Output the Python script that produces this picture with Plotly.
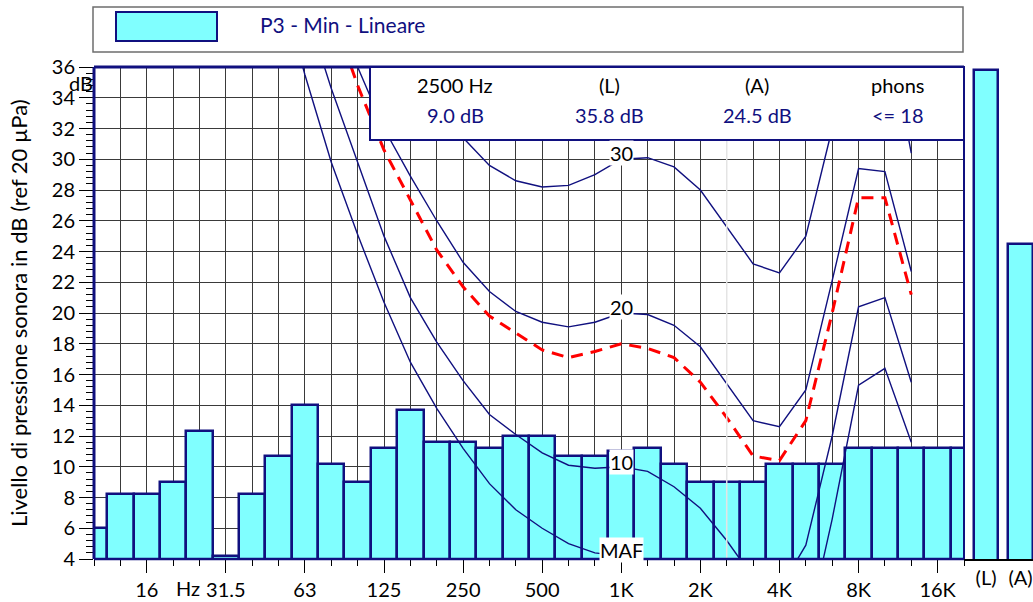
import plotly.graph_objects as go

# ---------------- data ----------------
band_labels = ["10", "12.5", "16", "20", "25", "31.5", "40", "50", "63", "80", "100",
               "125", "160", "200", "250", "315", "400", "500", "630", "800", "1K",
               "1.25K", "1.6K", "2K", "2.5K", "3.15K", "4K", "5K", "6.3K", "8K",
               "10K", "12.5K", "16K", "20K"]
levels = [6.0, 8.2, 8.2, 9.0, 12.3, 4.2, 8.2, 10.7, 14.0, 10.2, 9.0,
          11.2, 13.7, 11.6, 11.6, 11.2, 12.0, 12.0, 10.7, 10.7, 11.0,
          11.2, 10.2, 9.0, 9.0, 9.0, 10.2, 10.2, 10.2, 11.2,
          11.2, 11.2, 11.2, 11.2]
total_labels = ["(L)", "(A)"]
total_levels = [35.8, 24.5]

tick_labels = ["16", "31.5", "63", "125", "250", "500", "1K", "2K", "4K", "8K", "16K"]

N = None
maf = [N, N, N, N, N, N, N, 41.7, 35.5, 29.8, 25.1,
       20.7, 16.8, 13.8, 11.2, 8.9, 7.2, 6.0, 5.0, 4.4, 4.2,
       3.7, 2.6, 1.0, -1.2, -3.6, -3.9, -1.1, 6.6, 15.3,
       16.4, 11.6, N, N]
phon10 = [N, N, N, N, N, N, N, N, 40.0, 34.6, 29.8,
          25.0, 21.0, 18.1, 15.6, 13.4, 12.1, 10.9, 10.1, 9.9, 10.0,
          9.7, 8.7, 7.3, 5.2, 2.8, 2.0, 4.9, 12.0, 20.4,
          21.0, 15.5, N, N]
phon18 = [N, N, N, N, N, N, N, N, N, 39.7, 34.8,
          30.6, 27.3, 24.1, 21.7, 19.8, 18.7, 17.6, 17.1, 17.5, 18.0,
          17.7, 17.1, 15.5, 13.2, 10.7, 10.4, 13.0, 20.0, 27.5,
          27.5, 21.2, N, N]
phon20 = [N, N, N, N, N, N, N, N, N, 41.0, 36.0,
          32.0, 28.9, 26.0, 23.3, 21.4, 20.1, 19.4, 19.1, 19.4, 20.0,
          19.9, 19.2, 17.8, 15.4, 13.0, 12.6, 15.0, 22.1, 29.4,
          29.2, 22.7, N, N]
phon30 = [N, N, N, N, N, N, N, N, N, N, N,
          39.0, 36.0, 33.6, 31.4, 29.6, 28.6, 28.2, 28.3, 29.0, 30.0,
          30.1, 29.5, 28.0, 25.6, 23.2, 22.6, 25.0, 32.0, 39.5,
          39.5, 30.4, N, N]
curve_labels = [("MAF", 4.6), ("10", 10.3), ("20", 20.4), ("30", 30.4)]

series_name = "P3 - Min - Lineare"
cursor_band = "2.5K"
info_head = ["2500 Hz", "(L)", "(A)", "phons"]
info_vals = ["9.0 dB", "35.8 dB", "24.5 dB", "<= 18"]

# ---------------- style ----------------
NAVY = "#10107f"
CYAN = "#80ffff"
GRID = "#3a3a3a"
FONT = "Lato"

xi = list(range(len(band_labels)))
tick_idx = [band_labels.index(t) for t in tick_labels]

fig = go.Figure()

fig.add_trace(go.Bar(x=xi, y=levels, width=1.0, name=series_name,
                     marker=dict(color=CYAN, line=dict(color=NAVY, width=2.5)),
                     xaxis="x", yaxis="y", showlegend=False))

for c in [maf, phon10, phon20, phon30]:
    fig.add_trace(go.Scatter(x=xi, y=c, mode="lines", line=dict(color=NAVY, width=1.4),
                             connectgaps=False, showlegend=False, xaxis="x", yaxis="y"))
fig.add_trace(go.Scatter(x=xi, y=phon18, mode="lines",
                         line=dict(color="#ff0000", width=3, dash="12px,8px"),
                         connectgaps=False, showlegend=False, xaxis="x", yaxis="y"))

fig.add_trace(go.Bar(x=[0, 1], y=total_levels, width=0.7,
                     marker=dict(color=CYAN, line=dict(color=NAVY, width=2.5)),
                     xaxis="x2", yaxis="y2", showlegend=False))

x_split = (964 - 94) / 939

fig.update_layout(
    width=1033, height=602,
    margin=dict(l=94, r=0, t=67, b=43, pad=0),
    paper_bgcolor="white", plot_bgcolor="white",
    font=dict(family=FONT, size=20, color="black"),
    bargap=0,
    xaxis=dict(domain=[0, x_split], range=[0, 33], showgrid=True, gridcolor=GRID, gridwidth=1,
               tickmode="array", tickvals=tick_idx, ticktext=tick_labels,
               ticks="outside", ticklen=13, tickcolor="black", tickwidth=1,
               minor=dict(dtick=1, tick0=0, ticklen=6, ticks="outside", showgrid=True,
                          gridcolor=GRID, gridwidth=1, tickcolor="black"),
               showline=False, zeroline=False, tickfont=dict(size=20)),
    yaxis=dict(range=[4, 36], dtick=2, tick0=4, showgrid=True, gridcolor=GRID, gridwidth=1,
               ticks="outside", ticklen=14, tickcolor="black",
               minor=dict(dtick=0.4, tick0=4, ticklen=7, ticks="outside", tickcolor="black"),
               showline=False, zeroline=False, tickfont=dict(size=20)),
    xaxis2=dict(domain=[x_split, 1], range=[-0.638, 1.362], anchor="y2", showgrid=False,
                tickmode="array", tickvals=[0, 1], ticktext=total_labels, ticks="",
                showline=True, linecolor="black", linewidth=2, zeroline=False,
                tickfont=dict(size=20)),
    yaxis2=dict(range=[4, 36], anchor="x2", showgrid=False, showticklabels=False,
                ticks="", showline=False, zeroline=False),
)

shapes = []
# cursor line at selected frequency
ci = band_labels.index(cursor_band)
shapes.append(dict(type="line", xref="x", yref="y domain", x0=ci, x1=ci, y0=0, y1=1,
                   line=dict(color="#e4e4e4", width=1.5), layer="above"))
# plot frame
shapes.append(dict(type="line", xref="x domain", yref="y domain", x0=0, x1=0, y0=0, y1=1,
                   line=dict(color=NAVY, width=3), layer="above"))
shapes.append(dict(type="line", xref="x domain", yref="y domain", x0=0, x1=1, y0=1, y1=1,
                   line=dict(color=NAVY, width=3), layer="above"))
shapes.append(dict(type="line", xref="x domain", yref="y domain", x0=1, x1=1, y0=0, y1=1,
                   line=dict(color=NAVY, width=2), layer="above"))
shapes.append(dict(type="line", xref="x domain", yref="y domain", x0=0, x1=1, y0=0, y1=0,
                   line=dict(color=NAVY, width=2.5), layer="above"))
# info box
shapes.append(dict(type="rect", xref="paper", yref="paper",
                   x0=(370 - 94) / 939, x1=x_split, y0=(559 - 140) / 492, y1=1.0,
                   fillcolor="white", line=dict(color=NAVY, width=2), layer="above"))
# legend box
shapes.append(dict(type="rect", xref="paper", yref="paper",
                   x0=(93 - 94) / 939, x1=(963 - 94) / 939,
                   y0=(559 - 52) / 492, y1=(559 - 7) / 492,
                   fillcolor="white", line=dict(color="#6e6e6e", width=1.5), layer="above"))
shapes.append(dict(type="rect", xref="paper", yref="paper",
                   x0=(116 - 94) / 939, x1=(217 - 94) / 939,
                   y0=(559 - 41) / 492, y1=(559 - 12) / 492,
                   fillcolor=CYAN, line=dict(color=NAVY, width=2), layer="above"))
fig.update_layout(shapes=shapes)

ann = []
# curve labels at 1 kHz
k1 = band_labels.index("1K")
for txt, yv in curve_labels:
    ann.append(dict(x=k1, y=yv, xref="x", yref="y", text=txt, showarrow=False,
                    bgcolor="white", borderpad=0, font=dict(size=20, color="black"),
                    xanchor="center", yanchor="middle"))
# Hz label on x axis
ann.append(dict(x=3.55, y=-(588 - 559) / 492, xref="x", yref="paper", text="Hz",
                showarrow=False, font=dict(size=20), yanchor="middle"))
# dB unit label
ann.append(dict(x=(67 - 94) / 939, y=(559 - 83) / 492, xref="paper", yref="paper",
                text="dB", showarrow=False, font=dict(size=20), yanchor="middle"))
# y axis title
ann.append(dict(x=(18 - 94) / 939, y=(559 - 313) / 492, xref="paper", yref="paper",
                text="Livello di pressione sonora in dB (ref 20 µPa)", textangle=-90,
                showarrow=False, font=dict(size=22), xanchor="center", yanchor="middle"))
# legend text
ann.append(dict(x=(258 - 94) / 939, y=(559 - 24) / 492, xref="paper", yref="paper",
                text=series_name, showarrow=False, font=dict(size=21, color=NAVY),
                xanchor="left", yanchor="middle"))
# info box texts
cols = [455, 609, 757, 898]
for cx, h, v in zip(cols, info_head, info_vals):
    ann.append(dict(x=(cx - 94) / 939, y=(559 - 85) / 492, xref="paper", yref="paper",
                    text=h, showarrow=False, font=dict(size=20, color="black"),
                    xanchor="center", yanchor="middle"))
    ann.append(dict(x=(cx - 94) / 939, y=(559 - 115) / 492, xref="paper", yref="paper",
                    text=v, showarrow=False, font=dict(size=20, color=NAVY),
                    xanchor="center", yanchor="middle"))
fig.update_layout(annotations=ann)

fig.write_html("out.html", config={"displayModeBar": False},
               post_script="document.body.style.margin='0';document.body.style.padding='0';")
